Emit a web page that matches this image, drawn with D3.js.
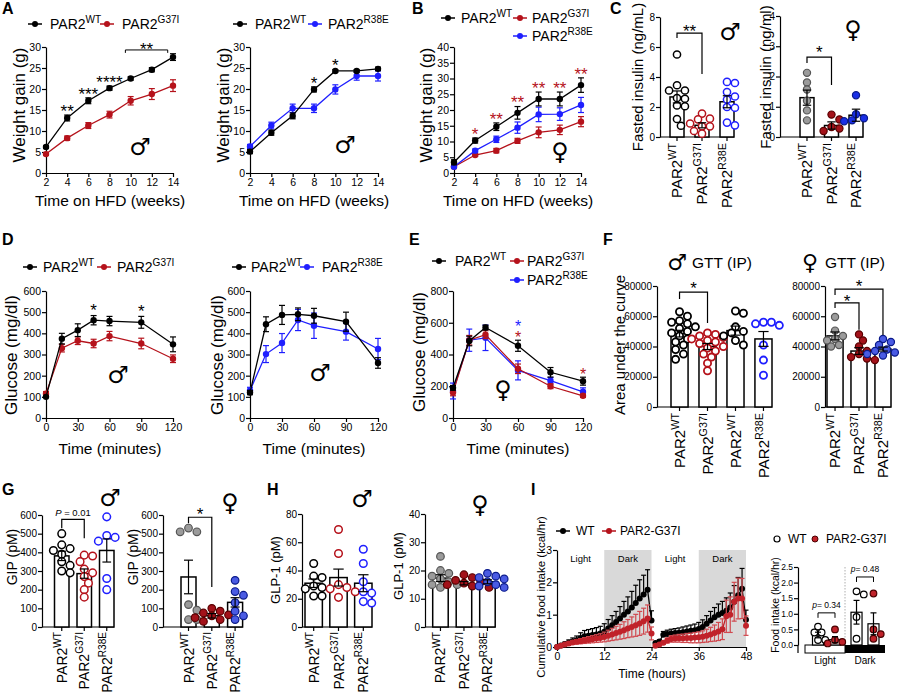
<!DOCTYPE html>
<html>
<head>
<meta charset="utf-8">
<script src="https://cdn.jsdelivr.net/npm/d3@7"></script>
<style>
  body { margin: 0; background: #fff; }
  svg { font-family: "Liberation Sans", Arial, sans-serif; }
  .sym { font-family: "DejaVu Sans", sans-serif; }
</style>
</head>
<body>
<svg id="fig" width="900" height="694"></svg>
<script>
// ---------------- data ----------------
const weeks = [2, 4, 6, 8, 10, 12, 14];
const gttMin = [0, 15, 30, 45, 60, 90, 120];
const ipgttMin = [0, 15, 30, 60, 90, 120];
const geno = [{ base: "PAR2", sup: "WT" }, { base: "PAR2", sup: "G37I" }, { base: "PAR2", sup: "R38E" }];
const genoF = [{ base: "PAR2", sup: "WT" }, { base: "PAR2", sup: "G37I" }, { base: "PAR2", sup: "WT" }, { base: "PAR2", sup: "R38E" }];

// A: weight gain, males
const aWT = [6.2, 13.1, 17.2, 20.2, 22.5, 24.6, 27.6];
const aWTErr = [0.3, 0.7, 0.7, 0.5, 0.4, 0.5, 0.8];
const aG37I = [4.5, 8.3, 11.3, 13.9, 17.2, 18.8, 20.8];
const aG37IErr = [0.3, 0.5, 0.7, 0.8, 1.0, 1.3, 1.4];
const aStars = ["", "**", "***", "****", "", "", ""];
const a2WT = [5.1, 9.6, 13.6, 19.9, 24.3, 24.3, 24.8];
const a2WTErr = [0.5, 0.6, 0.7, 0.6, 0.3, 0.3, 0.4];
const a2R38E = [6.3, 11.3, 15.4, 15.4, 19.9, 23.1, 23.1];
const a2R38EErr = [0.5, 0.8, 1.0, 1.0, 1.1, 1.0, 1.2];
const a2Stars = ["", "", "", "*", "*", "", ""];

// B: weight gain, females
const bWT = [3.4, 10.3, 14.7, 19.1, 23.5, 23.5, 27.9];
const bWTErr = [0.8, 0.8, 1.2, 2.0, 2.2, 2.2, 2.3];
const bG37I = [2.0, 5.7, 7.1, 10.2, 12.9, 13.7, 16.3];
const bG37IErr = [0.3, 0.4, 0.7, 0.8, 1.7, 1.5, 1.6];
const bR38E = [2.0, 7.1, 10.7, 14.4, 18.6, 18.7, 21.6];
const bR38EErr = [0.3, 0.5, 1.0, 1.8, 2.3, 2.0, 2.4];
const bStars = ["", "*", "**", "**", "**", "**", "**"];

// C: fasted insulin
const cMaleMean = [2.67, 0.78, 2.35];
const cMaleErr = [0.4, 0.17, 0.4];
const cMalePts = [[5.5, 3.45, 3.1, 3.1, 2.6, 2.55, 2.1, 2.05, 1.2, 0.75], [1.56, 1.22, 1.18, 0.9, 0.71, 0.71, 0.4, 0.22], [3.67, 3.6, 3.0, 2.7, 2.5, 2.0, 1.95, 0.96, 0.78]];
const cFemMean = [1.3, 0.38, 0.72];
const cFemErr = [0.25, 0.12, 0.2];
const cFemPts = [[2.12, 1.8, 1.57, 1.2, 0.88, 0.55], [0.74, 0.58, 0.33, 0.28, 0.2], [1.38, 0.75, 0.62, 0.55, 0.52]];

// D: GTT males
const dWT = [100, 375, 415, 462, 458, 452, 348];
const dWTErr = [0, 25, 30, 22, 22, 28, 35];
const dG37I = [115, 330, 365, 352, 387, 352, 280];
const dG37IErr = [10, 18, 18, 20, 22, 25, 18];
const dStars = ["", "", "", "*", "", "*", ""];
const d2WT = [120, 443, 487, 490, 483, 455, 260];
const d2WTErr = [10, 35, 45, 30, 35, 45, 25];
const d2R38E = [130, 302, 354, 463, 436, 408, 326];
const d2R38EErr = [15, 40, 45, 50, 60, 40, 50];

// E: GTT females
const eWT = [190, 485, 570, 455, 288, 232];
const eWTErr = [15, 30, 15, 35, 30, 25];
const eG37I = [160, 490, 525, 310, 200, 140];
const eG37IErr = [20, 30, 25, 30, 15, 10];
const eR38E = [170, 490, 505, 300, 235, 165];
const eR38EErr = [50, 70, 80, 60, 20, 25];
const eRedStars = ["", "", "", "*", "", "*"];
const eBlueStars = ["", "", "", "*", "", ""];

// F: GTT area under the curve
const fMaleMean = [48500, 40000, 50500, 45000];
const fMaleErr = [2200, 2000, 3000, 4900];
const fMalePts = [
  [63000, 60000, 57000, 56000, 55000, 53000, 52000, 50000, 49000, 47000, 45000, 43000, 41000, 38000, 35000, 31500],
  [49000, 48000, 47000, 46000, 45000, 44000, 43000, 42000, 40000, 39000, 37000, 35000, 33000, 29000, 24000],
  [63500, 62000, 53000, 50000, 49000, 47000, 44000, 41000],
  [56000, 56000, 55000, 54000, 41000, 31000, 21000]];
const fFemMean = [47000, 37000, 38300];
const fFemErr = [2600, 2200, 1300];
const fFemPts = [[59500, 50500, 47000, 45000, 44000, 41000, 40000], [48000, 44000, 40000, 37000, 35000, 33000, 32000, 31000], [45000, 43000, 41000, 38000, 37000, 36000, 35000, 34000]];

// G: GIP
const gMaleMean = [381, 286, 410];
const gMaleErr = [25, 25, 62];
const gMalePts = [[500, 440, 420, 410, 390, 350, 330, 300, 290], [385, 380, 350, 310, 290, 270, 235, 200, 160], [590, 490, 480, 460, 260, 200]];
const gFemMean = [268, 60, 132];
const gFemErr = [90, 12, 25];
const gFemPts = [[530, 510, 510, 120, 90, 40, 40], [100, 85, 75, 65, 60, 50, 40, 30], [250, 190, 170, 130, 85, 60, 40]];

// H: GLP-1
const hMaleMean = [31, 35, 31];
const hMaleErr = [3, 6, 6];
const hMalePts = [[45, 36, 35, 29, 28, 27, 22, 22], [69, 52, 30, 28, 27, 25, 21], [55, 45, 32, 25, 24, 18, 17]];
const hFemMean = [17.3, 15.5, 16];
const hFemErr = [1.2, 0.6, 0.7];
const hFemPts = [[25, 20, 19, 18, 17, 16, 15, 15, 14], [18.5, 17.5, 16.5, 16, 15.5, 15, 14.5, 14], [19, 18, 17.5, 17, 16, 15, 14.5, 14]];

// I: cumulative food intake (two 24 h cycles)
const hours1 = [0, 1, 2, 3, 4, 5, 6, 7, 8, 9, 10, 11, 12, 13, 14, 15, 16, 17, 18, 19, 20, 21, 22, 23, 24];
const hours2 = [25, 26, 27, 28, 29, 30, 31, 32, 33, 34, 35, 36, 37, 38, 39, 40, 41, 42, 43, 44, 45, 46, 47, 48];
const iWT1 = [0, 0.05, 0.09, 0.13, 0.17, 0.21, 0.28, 0.33, 0.35, 0.37, 0.39, 0.42, 0.47, 0.57, 0.67, 0.77, 0.88, 1.0, 1.1, 1.22, 1.36, 1.5, 1.62, 1.77, 0.82];
const iWT1Err = [0, 0.03, 0.06, 0.09, 0.11, 0.13, 0.16, 0.18, 0.19, 0.2, 0.21, 0.22, 0.25, 0.28, 0.3, 0.33, 0.37, 0.41, 0.45, 0.5, 0.55, 0.58, 0.6, 0.62, 0.3];
const iG1 = [0, 0.04, 0.08, 0.11, 0.14, 0.16, 0.18, 0.2, 0.22, 0.24, 0.26, 0.28, 0.31, 0.35, 0.39, 0.43, 0.47, 0.52, 0.57, 0.62, 0.67, 0.73, 0.8, 0.88, 0.42];
const iG1Err = [0, 0.02, 0.04, 0.05, 0.06, 0.07, 0.08, 0.09, 0.1, 0.11, 0.12, 0.13, 0.15, 0.17, 0.19, 0.21, 0.23, 0.26, 0.28, 0.31, 0.34, 0.37, 0.4, 0.42, 0.2];
const iWT2 = [0.12, 0.17, 0.38, 0.4, 0.42, 0.43, 0.44, 0.46, 0.48, 0.5, 0.52, 0.56, 0.62, 0.72, 0.82, 0.92, 1.0, 1.05, 1.12, 1.22, 1.4, 1.6, 1.8, 0.84];
const iWT2Err = [0.03, 0.05, 0.1, 0.12, 0.13, 0.14, 0.15, 0.16, 0.17, 0.18, 0.19, 0.2, 0.22, 0.25, 0.28, 0.3, 0.33, 0.36, 0.4, 0.45, 0.5, 0.55, 0.63, 0.3];
const iG2 = [0.04, 0.08, 0.13, 0.2, 0.25, 0.26, 0.27, 0.27, 0.28, 0.28, 0.29, 0.3, 0.32, 0.35, 0.39, 0.43, 0.48, 0.55, 0.95, 1.0, 1.4, 1.5, 1.5, 0.66];
const iG2Err = [0.02, 0.03, 0.05, 0.08, 0.1, 0.11, 0.12, 0.13, 0.14, 0.15, 0.16, 0.17, 0.18, 0.2, 0.22, 0.25, 0.28, 0.32, 0.5, 0.55, 0.6, 0.63, 0.62, 0.3];
const phases = ["Light", "Dark"];
const iBarMean = [[0.32, 0.17], [1.05, 0.68]];
const iBarErr = [[0.09, 0.1], [0.38, 0.35]];
const iBarPts = [[[0.59, 0.4, 0.4, 0.16, 0.16], [0.5, 0.16, 0.1, 0.05]], [[1.72, 1.62, 0.9, 0.2], [1.65, 0.5, 0.35, 0.2]]];
const iPvals = ["p= 0.34", "p= 0.48"];

// ---------------- helpers ----------------
const svg = d3.select("#fig");
const RED = "#b5121b", BLUE = "#1f1fff";
const GREY = "#9b9b9b", FRED = "#a3121a", FBLUE = "#4a5be3", CBLUE = "#1a2fe6";

function rich(g, x, y, base, sup, fs, anchor) {
  const t = g.append("text").attr("x", x).attr("y", y).attr("font-size", fs)
    .attr("text-anchor", anchor || "start");
  t.append("tspan").text(base);
  if (sup) t.append("tspan").attr("dy", -fs * 0.42).attr("font-size", fs * 0.72).text(sup);
  return t;
}

function styleAxis(a, fs) {
  a.attr("font-family", null).attr("font-size", fs);
  a.selectAll(".domain, .tick line").attr("stroke", "#000").attr("stroke-width", 1.2);
  a.selectAll("text").attr("fill", "#000");
  return a;
}

function yLabel(x, y, text, fs) {
  svg.append("text").attr("transform", `translate(${x},${y}) rotate(-90)`)
    .attr("text-anchor", "middle").attr("font-size", fs).text(text);
}

function xLabel(x, y, text, fs) {
  svg.append("text").attr("x", x).attr("y", y).attr("text-anchor", "middle").attr("font-size", fs).text(text);
}

function sym(x, y, ch, fs) {
  svg.append("text").attr("class", "sym").attr("x", x).attr("y", y)
    .attr("text-anchor", "middle").attr("dominant-baseline", "central").attr("font-size", fs).text(ch);
}

function panel(x, y, t) {
  svg.append("text").attr("x", x).attr("y", y).attr("font-size", 16).attr("font-weight", "bold").text(t);
}

function legendItem(mx, tx, y, color, base, sup, fs) {
  const g = svg.append("g");
  g.append("line").attr("x1", mx - 7).attr("x2", mx + 7).attr("y1", y).attr("y2", y)
    .attr("stroke", color).attr("stroke-width", 1.5);
  g.append("circle").attr("cx", mx).attr("cy", y).attr("r", 3).attr("fill", color);
  rich(g, tx, y + fs * 0.36, base, sup, fs || 14);
}

function errBar(g, cx, yLo, yHi, cap, color, upCap, downCap) {
  g.append("line").attr("x1", cx).attr("x2", cx).attr("y1", yLo).attr("y2", yHi)
    .attr("stroke", color).attr("stroke-width", 1.2);
  if (upCap) g.append("line").attr("x1", cx - cap).attr("x2", cx + cap).attr("y1", yHi).attr("y2", yHi)
    .attr("stroke", color).attr("stroke-width", 1.2);
  if (downCap) g.append("line").attr("x1", cx - cap).attr("x2", cx + cap).attr("y1", yLo).attr("y2", yLo)
    .attr("stroke", color).attr("stroke-width", 1.2);
}

function drawSeries(g, x, y, s) {
  g.append("path").datum(s.v).attr("fill", "none").attr("stroke", s.c).attr("stroke-width", 1.3)
    .attr("d", d3.line().x((d, i) => x(s.t[i])).y(d => y(d)));
  const eg = g.append("g");
  const up = s.up !== false, down = s.down !== false;
  s.v.forEach((v, i) => {
    const e = s.e[i];
    if (!e) return;
    errBar(eg, x(s.t[i]), y(down ? v - e : v), y(up ? v + e : v), s.cap || 3, s.ec || s.c, up, down);
  });
  g.append("g").selectAll("circle").data(s.v).join("circle")
    .attr("cx", (d, i) => x(s.t[i])).attr("cy", d => y(d)).attr("r", s.r || 3.2).attr("fill", s.c);
}

function lineChart(o) {
  const g = svg.append("g");
  const x = d3.scaleLinear().domain(o.xd).range(o.xr);
  const y = d3.scaleLinear().domain(o.yd).range(o.yr);
  if (o.before) o.before(g, x, y);
  styleAxis(g.append("g").attr("transform", `translate(0,${o.yr[0]})`)
    .call(d3.axisBottom(x).tickValues(o.xt).tickSize(4).tickSizeOuter(0).tickPadding(2)), o.fs || 10.5);
  styleAxis(g.append("g").attr("transform", `translate(${o.xr[0]},0)`)
    .call(d3.axisLeft(y).tickValues(o.yt).tickSize(4).tickSizeOuter(0).tickPadding(1)
      .tickFormat(d3.format("d"))), o.fs || 10.5);
  o.series.forEach(s => drawSeries(g, x, y, s));
  return { g, x, y };
}

function starLabels(g, x, y, t, v, e, labels, color, gap, fs) {
  labels.forEach((lab, i) => {
    if (!lab) return;
    g.append("text").attr("x", x(t[i])).attr("y", y(v[i] + e[i]) - gap + fs * 0.57)
      .attr("text-anchor", "middle").attr("font-size", fs).attr("fill", color).text(lab);
  });
}

function swarm(vals, y, r, cx) {
  const placed = [];
  const steps = [0];
  for (let k = 1; k < 8; k++) steps.push(k * r * 1.1, -k * r * 1.1);
  return vals.slice().sort((a, b) => b - a).map(v => {
    const cy = y(v);
    let off = 0;
    for (const s of steps) {
      if (placed.every(p => Math.hypot(p.x - s, p.y - cy) >= r * 1.9)) { off = s; break; }
    }
    placed.push({ x: off, y: cy });
    return { x: cx + off, y: cy };
  });
}

function barChart(o) {
  const g = svg.append("g");
  const y = d3.scaleLinear().domain(o.yd).range(o.yr);
  const keys = d3.range(o.mean.length);
  const x = d3.scaleBand().domain(keys).range(o.band).paddingInner(o.pad).paddingOuter(0);
  const y0 = o.yr[0], bw = x.bandwidth();
  const cx = i => x(i) + bw / 2;
  styleAxis(g.append("g").attr("transform", `translate(${o.ax},0)`)
    .call(d3.axisLeft(y).tickValues(o.yt).tickSize(4).tickSizeOuter(0).tickPadding(1)
      .tickFormat(d3.format("d"))), o.fs || 10);
  g.append("line").attr("x1", o.ax).attr("x2", o.band[1]).attr("y1", y0).attr("y2", y0)
    .attr("stroke", "#000").attr("stroke-width", 1.2);
  g.append("g").selectAll("line").data(keys).join("line")
    .attr("x1", cx).attr("x2", cx).attr("y1", y0).attr("y2", y0 + 4)
    .attr("stroke", "#000").attr("stroke-width", 1.2);
  g.append("g").selectAll("rect").data(o.mean).join("rect")
    .attr("x", (d, i) => x(i)).attr("width", bw)
    .attr("y", d => y(d)).attr("height", d => y0 - y(d))
    .attr("fill", "#fff").attr("stroke", "#000").attr("stroke-width", 1.5);
  o.pts.forEach((arr, i) => {
    g.append("g").selectAll("circle").data(swarm(arr, y, o.r, cx(i))).join("circle")
      .attr("cx", d => d.x).attr("cy", d => d.y).attr("r", o.r)
      .attr("fill", o.fill[i]).attr("stroke", o.stroke[i]).attr("stroke-width", o.sw || 1.5);
  });
  const eg = g.append("g");
  o.mean.forEach((m, i) => errBar(eg, cx(i), y(m - o.err[i]), y(m + o.err[i]), bw * 0.3, "#000", true, true));
  o.cats.forEach((c, i) => {
    const gg = g.append("g").attr("transform", `translate(${cx(i) + o.cfs * 0.36},${y0 + (o.cdy || 6)}) rotate(-90)`);
    rich(gg, 0, 0, c.base, c.sup, o.cfs, "end");
  });
  return { g, x, y, cx };
}

// bracket between bars i1 and i2; heights in data units
function bracket(c, i1, i2, top, leg1, leg2, labelY, fs, color) {
  const x1 = c.cx(i1), x2 = c.cx(i2);
  c.g.append("path")
    .attr("d", `M${x1},${c.y(leg1)}V${c.y(top)}H${x2}V${c.y(leg2)}`)
    .attr("fill", "none").attr("stroke", "#000").attr("stroke-width", 1.2);
  return c.g.append("text").attr("x", (x1 + x2) / 2).attr("y", c.y(labelY))
    .attr("text-anchor", "middle").attr("font-size", fs).attr("fill", color || "#000");
}
function starBracket(c, i1, i2, top, leg1, leg2, starY, label) {
  bracket(c, i1, i2, top, leg1, leg2, starY, 17).attr("y", c.y(starY) + 17 * 0.57).text(label);
}

// ---------------- A ----------------
panel(2, 14, "A");
const A1 = lineChart({
  xd: [2, 14], xr: [46, 173], yd: [0, 30], yr: [173, 47], xt: weeks, yt: [0, 5, 10, 15, 20, 25, 30],
  series: [
    { t: weeks, v: aG37I, e: aG37IErr, c: RED },
    { t: weeks, v: aWT, e: aWTErr, c: "#000" }]
});
starLabels(A1.g, A1.x, A1.y, weeks, aWT, aWTErr, aStars, "#000", 8, 17);
A1.g.append("path").attr("d", `M${A1.x(9.5)},${A1.y(28.6)}V${A1.y(29.3)}H${A1.x(13.5)}V${A1.y(28.6)}`)
  .attr("fill", "none").attr("stroke", "#000").attr("stroke-width", 1);
A1.g.append("text").attr("x", A1.x(11.5)).attr("y", A1.y(30.5) + 17 * 0.57).attr("text-anchor", "middle")
  .attr("font-size", 17).text("**");
legendItem(35, 50, 24, "#000", "PAR2", "WT", 14);
legendItem(107, 122, 24, RED, "PAR2", "G37I", 14);
yLabel(25, 105, "Weight gain (g)", 17);
xLabel(110, 206, "Time on HFD (weeks)", 15.5);
sym(140, 147, "\u2642", 24);

const A2 = lineChart({
  xd: [2, 14], xr: [250, 378], yd: [0, 30], yr: [173, 47], xt: weeks, yt: [0, 5, 10, 15, 20, 25, 30],
  series: [
    { t: weeks, v: a2R38E, e: a2R38EErr, c: BLUE },
    { t: weeks, v: a2WT, e: a2WTErr, c: "#000" }]
});
starLabels(A2.g, A2.x, A2.y, weeks, a2WT, a2WTErr, a2Stars, "#000", 8, 17);
legendItem(240, 255, 24, "#000", "PAR2", "WT", 14);
legendItem(315, 328, 24, BLUE, "PAR2", "R38E", 14);
yLabel(229, 105, "Weight gain (g)", 17);
xLabel(314, 206, "Time on HFD (weeks)", 15.5);
sym(345, 145, "\u2642", 24);

// ---------------- B ----------------
panel(412, 14, "B");
const B = lineChart({
  xd: [2, 14], xr: [454, 581], yd: [0, 40], yr: [173, 47], xt: weeks, yt: [0, 5, 10, 15, 20, 25, 30, 35, 40],
  series: [
    { t: weeks, v: bG37I, e: bG37IErr, c: RED },
    { t: weeks, v: bR38E, e: bR38EErr, c: BLUE },
    { t: weeks, v: bWT, e: bWTErr, c: "#000" }]
});
starLabels(B.g, B.x, B.y, weeks, bWT, bWTErr, bStars, RED, 8, 17);
legendItem(448, 461, 18, "#000", "PAR2", "WT", 14);
legendItem(520, 532, 18, RED, "PAR2", "G37I", 14);
legendItem(520, 532, 36, BLUE, "PAR2", "R38E", 14);
yLabel(432, 105, "Weight gain (g)", 17);
xLabel(518, 206, "Time on HFD (weeks)", 15.5);
sym(560, 152, "\u2640", 24);

// ---------------- C ----------------
panel(610, 14, "C");
const C1 = barChart({
  ax: 660, band: [670, 734], pad: 0.44, yd: [0, 8], yr: [137, 17], yt: [0, 2, 4, 6, 8],
  mean: cMaleMean, err: cMaleErr, pts: cMalePts, r: 3.6,
  fill: ["#fff", "#fff", "#fff"], stroke: ["#000", RED, BLUE], cats: geno, cfs: 15
});
starBracket(C1, 0, 1, 6.93, 6.6, 4.2, 7.3, "**");
yLabel(643, 77, "Fasted insulin (ng/mL)", 15);
sym(730, 32, "\u2642", 24);

const C2 = barChart({
  ax: 780, band: [800, 863], pad: 0.43, yd: [0, 4], yr: [137, 16], yt: [0, 1, 2, 3, 4],
  mean: cFemMean, err: cFemErr, pts: cFemPts, r: 3.6, sw: 1.2,
  fill: [GREY, FRED, CBLUE], stroke: ["#555", "#5a0000", "#0a1a8a"], cats: geno, cfs: 15
});
starBracket(C2, 0, 1, 2.64, 2.45, 1.72, 2.94, "*");
yLabel(771, 77, "Fasted insulin (ng/ml)", 15);
sym(853, 30, "\u2640", 24);

// ---------------- D ----------------
panel(2, 245, "D");
const D1 = lineChart({
  xd: [0, 120], xr: [46, 173], yd: [0, 600], yr: [418, 291], xt: [0, 30, 60, 90, 120], yt: [0, 100, 200, 300, 400, 500, 600],
  series: [
    { t: gttMin, v: dG37I, e: dG37IErr, c: RED },
    { t: gttMin, v: dWT, e: dWTErr, c: "#000" }]
});
starLabels(D1.g, D1.x, D1.y, gttMin, dWT, dWTErr, dStars, "#000", 9, 17);
legendItem(30, 43, 267, "#000", "PAR2", "WT", 14);
legendItem(104, 117, 267, RED, "PAR2", "G37I", 14);
yLabel(17, 355, "Glucose (mg/dl)", 17);
xLabel(110, 454, "Time (minutes)", 15.5);
sym(118, 375, "\u2642", 24);

const D2 = lineChart({
  xd: [0, 120], xr: [250, 378], yd: [0, 600], yr: [418, 291], xt: [0, 30, 60, 90, 120], yt: [0, 100, 200, 300, 400, 500, 600],
  series: [
    { t: gttMin, v: d2R38E, e: d2R38EErr, c: BLUE },
    { t: gttMin, v: d2WT, e: d2WTErr, c: "#000" }]
});
legendItem(239, 251, 267, "#000", "PAR2", "WT", 14);
legendItem(307, 322, 267, BLUE, "PAR2", "R38E", 14);
yLabel(223, 355, "Glucose (mg/dl)", 17);
xLabel(314, 454, "Time (minutes)", 15.5);
sym(320, 373, "\u2642", 24);

// ---------------- E ----------------
panel(409, 245, "E");
const E = lineChart({
  xd: [0, 120], xr: [453, 583], yd: [0, 800], yr: [418, 291], xt: [0, 30, 60, 90, 120], yt: [0, 200, 400, 600, 800],
  series: [
    { t: ipgttMin, v: eR38E, e: eR38EErr, c: BLUE },
    { t: ipgttMin, v: eG37I, e: eG37IErr, c: RED },
    { t: ipgttMin, v: eWT, e: eWTErr, c: "#000" }]
});
// stacked stars: blue (R38E) above red (G37I), one text per time point
ipgttMin.forEach((t, i) => {
  if (!eRedStars[i] && !eBlueStars[i]) return;
  const cx = E.x(t), base = E.y(eWT[i] + eWTErr[i]) - 6 + 16 * 0.57;
  const txt = E.g.append("text").attr("text-anchor", "middle").attr("font-size", 16);
  if (eBlueStars[i]) txt.append("tspan").attr("x", cx).attr("y", base - 11).attr("fill", BLUE).text(eBlueStars[i]);
  if (eRedStars[i]) txt.append("tspan").attr("x", cx).attr("y", base).attr("fill", RED).text(eRedStars[i]);
});
legendItem(439, 455, 261, "#000", "PAR2", "WT", 14);
legendItem(517, 527, 261, RED, "PAR2", "G37I", 14);
legendItem(517, 527, 280, BLUE, "PAR2", "R38E", 14);
yLabel(425, 352, "Glucose (mg/dl)", 17);
xLabel(518, 454, "Time (minutes)", 15.5);
sym(503, 390, "\u2640", 24);

// ---------------- F ----------------
panel(603, 245, "F");
const F1 = barChart({
  ax: 657, band: [671, 772], pad: 0.39, yd: [0, 80000], yr: [407, 286], yt: [0, 20000, 40000, 60000, 80000],
  mean: fMaleMean, err: fMaleErr, pts: fMalePts, r: 3.6, sw: 1.8,
  fill: ["#fff", "#fff", "#fff", "#fff"], stroke: ["#000", RED, "#000", BLUE], cats: genoF, cfs: 15
});
starBracket(F1, 0, 1, 76000, 71400, 55500, 81300, "*");
sym(677, 262, "\u2642", 22);
svg.append("text").attr("x", 692).attr("y", 268).attr("font-size", 15.5).text("GTT (IP)");
yLabel(625, 345, "Area under the curve", 15);

const F2 = barChart({
  ax: 825, band: [827, 891], pad: 0.33, yd: [0, 80000], yr: [407, 286], yt: [0, 20000, 40000, 60000, 80000],
  mean: fFemMean, err: fFemErr, pts: fFemPts, r: 3.6, sw: 1.2,
  fill: [GREY, FRED, FBLUE], stroke: ["#555", "#5a0000", "#0a1a8a"], cats: geno, cfs: 15
});
starBracket(F2, 0, 1, 68800, 65500, 51000, 72700, "*");
starBracket(F2, 0, 2, 78000, 74000, 47600, 82600, "*");
sym(810, 262, "\u2640", 22);
svg.append("text").attr("x", 825).attr("y", 268).attr("font-size", 15.5).text("GTT (IP)");

// ---------------- G ----------------
panel(2, 495, "G");
const G1 = barChart({
  ax: 42, band: [54.5, 114], pad: 0.356, yd: [0, 600], yr: [627, 515], yt: [0, 100, 200, 300, 400, 500, 600],
  mean: gMaleMean, err: gMaleErr, pts: gMalePts, r: 3.8, sw: 1.5,
  fill: ["#fff", "#fff", "#fff"], stroke: ["#000", RED, BLUE], cats: geno, cfs: 14, cdy: 5
});
const gp = bracket(G1, 0, 1, 577, 529, 475, 593, 9.5);
gp.append("tspan").attr("font-style", "italic").text("P");
gp.append("tspan").text(" = 0.01");
yLabel(17, 557, "GIP (pM)", 14);
sym(110, 498, "\u2642", 24);

const G2 = barChart({
  ax: 163, band: [181, 242.6], pad: 0.356, yd: [0, 600], yr: [627, 515], yt: [0, 100, 200, 300, 400, 500, 600],
  mean: gFemMean, err: gFemErr, pts: gFemPts, r: 3.8, sw: 1.2,
  fill: [GREY, FRED, FBLUE], stroke: ["#555", "#5a0000", "#0a1a8a"], cats: geno, cfs: 14, cdy: 5
});
starBracket(G2, 0, 1, 588, 556, 214, 625, "*");
yLabel(138, 557, "GIP (pM)", 14);
sym(230, 503, "\u2640", 24);

// ---------------- H ----------------
panel(267, 495, "H");
barChart({
  ax: 302, band: [305, 372], pad: 0.3, yd: [0, 80], yr: [627, 514], yt: [0, 20, 40, 60, 80],
  mean: hMaleMean, err: hMaleErr, pts: hMalePts, r: 3.8, sw: 1.5,
  fill: ["#fff", "#fff", "#fff"], stroke: ["#000", RED, BLUE], cats: geno, cfs: 14, cdy: 5
});
yLabel(280, 570, "GLP-1 (pM)", 13);
sym(362, 499, "\u2642", 24);

barChart({
  ax: 425, band: [432.7, 495.2], pad: 0.34, yd: [0, 40], yr: [627, 514], yt: [0, 10, 20, 30, 40],
  mean: hFemMean, err: hFemErr, pts: hFemPts, r: 3.8, sw: 1.2,
  fill: [GREY, FRED, FBLUE], stroke: ["#555", "#5a0000", "#0a1a8a"], cats: geno, cfs: 14, cdy: 5
});
yLabel(403, 566, "GLP-1 (pM)", 13);
sym(480, 505, "\u2640", 24);

// ---------------- I ----------------
panel(531, 495, "I");
lineChart({
  xd: [0, 48], xr: [557, 746], yd: [0, 3], yr: [647, 550], xt: [0, 12, 24, 36, 48], yt: [0, 1, 2, 3], fs: 10.5,
  before: (g, x, y) => {
    [[12, 24], [36, 48]].forEach(([a, b]) => g.append("rect").attr("x", x(a)).attr("width", x(b) - x(a))
      .attr("y", y(3)).attr("height", y(0) - y(3)).attr("fill", "#d9d9d9"));
    [[6, "Light"], [18, "Dark"], [30, "Light"], [42, "Dark"]].forEach(([h, t]) =>
      g.append("text").attr("x", x(h)).attr("y", 562).attr("text-anchor", "middle").attr("font-size", 9.5).text(t));
  },
  series: [
    { t: hours1, v: iWT1, e: iWT1Err, c: "#000", down: false, r: 3, cap: 2.5 },
    { t: hours2, v: iWT2, e: iWT2Err, c: "#000", down: false, r: 3, cap: 2.5 },
    { t: hours1, v: iG1, e: iG1Err, c: "#c0222a", ec: "#d0494f", r: 3, cap: 2.5 },
    { t: hours2, v: iG2, e: iG2Err, c: "#c0222a", ec: "#d0494f", r: 3, cap: 2.5 }]
});
legendItem(563, 576, 531, "#000", "WT", "", 12);
legendItem(609, 620, 531, RED, "PAR2-G37I", "", 12);
yLabel(545, 597, "Cumulative food intake (kcal/hr)", 11.5);
xLabel(652, 678, "Time (hours)", 12);

// I right: light / dark food intake
{
  const g = svg.append("g");
  const y = d3.scaleLinear().domain([0, 2.5]).range([645, 567]);
  const gx = d3.scaleBand().domain(phases).range([803, 880]);
  const ix = d3.scaleBand().domain([0, 1]).range([9.5, 37.5]).paddingInner(0.35);
  const bw = ix.bandwidth();
  const cx = (p, s) => gx(p) + ix(s) + bw / 2;
  const sep = gx("Dark") + 3.5;
  const half = sep - gx("Light") - 2;
  styleAxis(g.append("g").attr("transform", "translate(798,0)")
    .call(d3.axisLeft(y).tickValues([0, 0.5, 1, 1.5, 2, 2.5]).tickSize(4).tickSizeOuter(0).tickPadding(1)
      .tickFormat(d3.format(".1f"))), 8.5);
  g.append("line").attr("x1", 798).attr("x2", 798).attr("y1", y(0)).attr("y2", y(0) + 8)
    .attr("stroke", "#000").attr("stroke-width", 1.2);
  g.append("line").attr("x1", sep).attr("x2", sep).attr("y1", y(2.5)).attr("y2", y(0))
    .attr("stroke", "#999").attr("stroke-width", 0.8).attr("stroke-dasharray", "1.5,1.5");
  g.append("rect").attr("x", gx("Light") + 2).attr("width", half).attr("y", y(0)).attr("height", 8)
    .attr("fill", "#fff").attr("stroke", "#000").attr("stroke-width", 1);
  g.append("rect").attr("x", sep).attr("width", half).attr("y", y(0)).attr("height", 8)
    .attr("fill", "#000");
  const pFill = ["#fff", "#c0222a"], pStroke = ["#000", "#4a0000"];
  phases.forEach((p, pi) => {
    [0, 1].forEach(s => {
      const m = iBarMean[pi][s];
      g.append("rect").attr("x", gx(p) + ix(s)).attr("width", bw).attr("y", y(m)).attr("height", y(0) - y(m))
        .attr("fill", "#fff").attr("stroke", "#000").attr("stroke-width", 1.2);
      g.append("g").selectAll("circle").data(swarm(iBarPts[pi][s], y, 3.3, cx(p, s))).join("circle")
        .attr("cx", d => d.x).attr("cy", d => d.y).attr("r", 3.3)
        .attr("fill", pFill[s]).attr("stroke", pStroke[s]).attr("stroke-width", 1.2);
      errBar(g, cx(p, s), y(m - iBarErr[pi][s]), y(m + iBarErr[pi][s]), 3, "#000", true, true);
    });
    g.append("text").attr("x", gx("Light") + 2 + half / 2 + pi * half)
      .attr("y", 664).attr("text-anchor", "middle").attr("font-size", 10).text(p);
  });
  // p-value brackets
  const br = [[1.03, 0.87, 1.19], [2.18, 2.02, 2.34]];
  phases.forEach((p, pi) => {
    const x1 = cx(p, 0), x2 = cx(p, 1);
    g.append("path").attr("d", `M${x1},${y(br[pi][1])}V${y(br[pi][0])}H${x2}V${y(br[pi][1])}`)
      .attr("fill", "none").attr("stroke", "#000").attr("stroke-width", 1);
    const t = g.append("text").attr("x", (x1 + x2) / 2).attr("y", y(br[pi][2]))
      .attr("text-anchor", "middle").attr("font-size", 8.5);
    t.append("tspan").attr("font-style", "italic").text(iPvals[pi].slice(0, 1));
    t.append("tspan").text(iPvals[pi].slice(1));
  });
  // legend
  g.append("circle").attr("cx", 777).attr("cy", 539).attr("r", 3).attr("fill", "#fff").attr("stroke", "#000").attr("stroke-width", 1.2);
  g.append("text").attr("x", 788).attr("y", 543).attr("font-size", 12).text("WT");
  g.append("circle").attr("cx", 815).attr("cy", 539).attr("r", 3).attr("fill", "#c0222a").attr("stroke", "#4a0000").attr("stroke-width", 1);
  g.append("text").attr("x", 826).attr("y", 543).attr("font-size", 12).text("PAR2-G37I");
}
yLabel(779, 605, "Food intake (kcal/hr)", 10.5);
</script>
</body>
</html>
